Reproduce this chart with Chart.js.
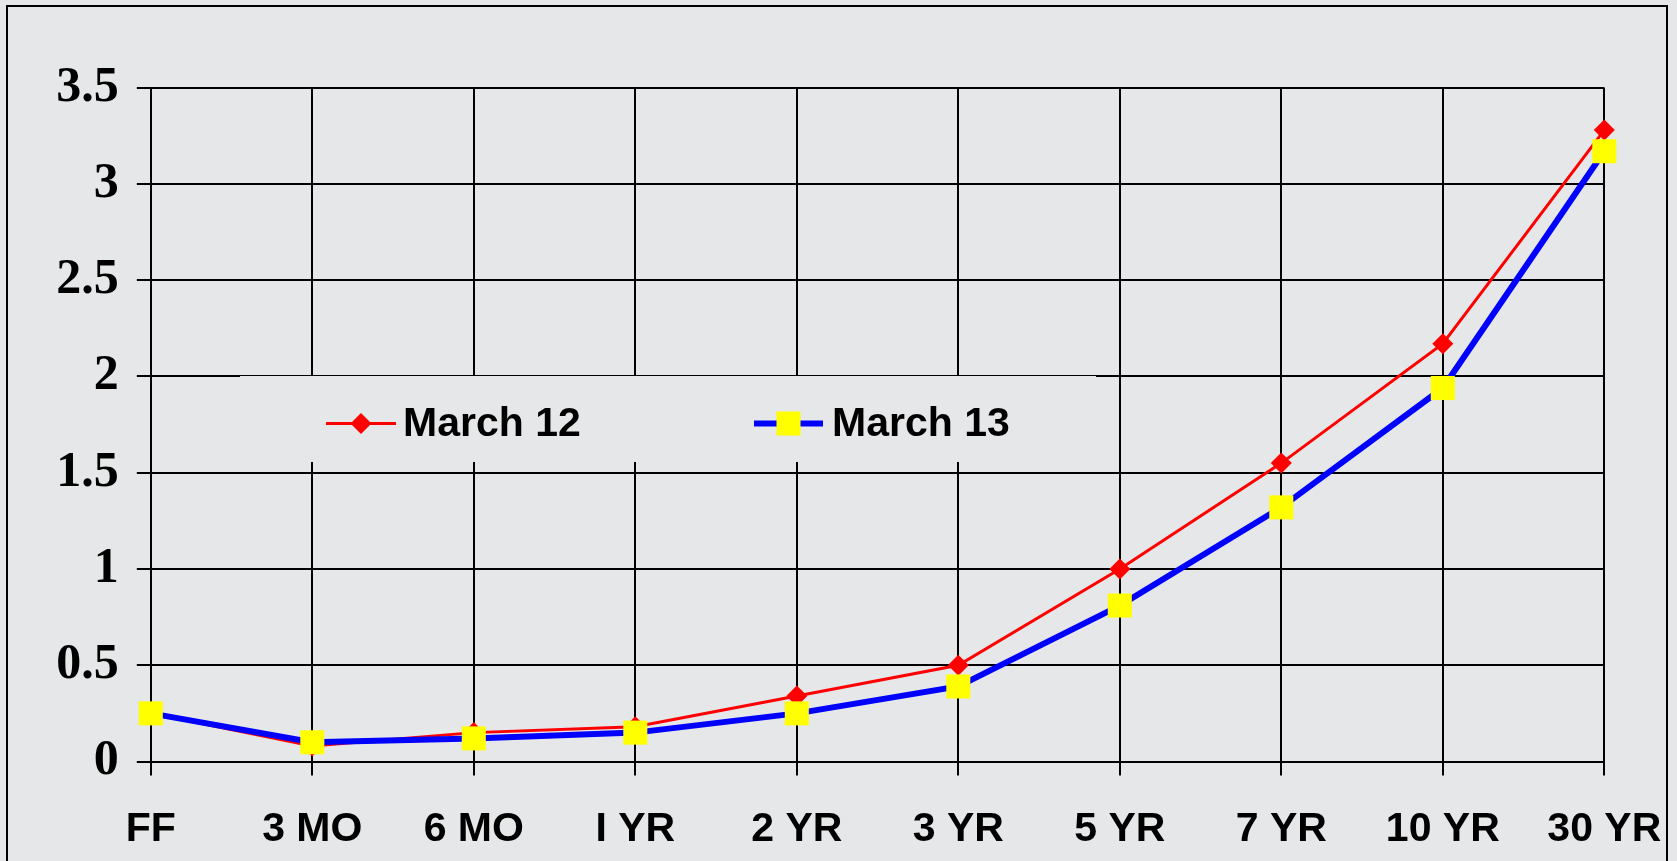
<!DOCTYPE html>
<html>
<head>
<meta charset="utf-8">
<script src="https://cdn.jsdelivr.net/npm/chart.js@4.4.1/dist/chart.umd.min.js"></script>
<style>
  html, body { margin: 0; padding: 0; }
  body {
    width: 1677px; height: 861px; overflow: hidden;
    background-color: #e6e7e8;
  }
  #frame {
    position: absolute; left: 6px; top: 5px; width: 1662px; height: 900px;
    box-sizing: border-box; border: 2px solid #000;
  }
  #c { position: absolute; left: 0; top: 0; }
</style>
</head>
<body>
<div id="frame"></div>
<canvas id="c" width="1677" height="861"></canvas>
<script>
// ---- data ----
const categories = ['FF', '3 MO', '6 MO', 'I YR', '2 YR', '3 YR', '5 YR', '7 YR', '10 YR', '30 YR'];
const seriesNames = ['March 12', 'March 13'];
const march12 = [0.25, 0.08, 0.15, 0.18, 0.34, 0.50, 1.00, 1.55, 2.17, 3.28];
const march13 = [0.25, 0.10, 0.12, 0.15, 0.25, 0.39, 0.81, 1.32, 1.94, 3.17];
const yTicks = [0, 0.5, 1, 1.5, 2, 2.5, 3, 3.5];

// ---- layout ----
const AREA = { left: 150.8, right: 1604.3, top: 87.7, bottom: 761.5 };
const W = 1677, H = 861;

const legendPlugin = {
  id: 'floatingLegend',
  afterDatasetsDraw(chart) {
    const ctx = chart.ctx;
    ctx.save();
    // box that hides the grid behind the legend
    ctx.clearRect(240, 376, 856, 86);
    const cy = 423.5;
    const items = [
      { x0: 326, x1: 396, tx: 403 },
      { x0: 754, x1: 823, tx: 832 }
    ];
    chart.data.datasets.forEach((ds, i) => {
      const it = items[i];
      ctx.strokeStyle = ds.borderColor;
      ctx.lineWidth = ds.borderWidth;
      ctx.beginPath();
      ctx.moveTo(it.x0, cy);
      ctx.lineTo(it.x1, cy);
      ctx.stroke();
      const mx = (it.x0 + it.x1) / 2;
      ctx.fillStyle = ds.pointBackgroundColor;
      ctx.beginPath();
      if (ds.pointStyle === 'rectRot') {
        const r = ds.pointRadius;
        ctx.moveTo(mx, cy - r); ctx.lineTo(mx + r, cy); ctx.lineTo(mx, cy + r); ctx.lineTo(mx - r, cy);
        ctx.closePath();
      } else {
        const s = ds.pointRadius * Math.SQRT1_2;
        ctx.rect(mx - s, cy - s, 2 * s, 2 * s);
      }
      ctx.fill();
      ctx.fillStyle = '#000';
      ctx.font = 'bold 41px "Liberation Sans", Arial, sans-serif';
      ctx.textBaseline = 'middle';
      ctx.textAlign = 'left';
      ctx.fillText(ds.label, it.tx, cy + 1);
    });
    ctx.restore();
  }
};

new Chart(document.getElementById('c'), {
  type: 'line',
  data: {
    labels: categories,
    datasets: [
      {
        label: seriesNames[0], data: march12, order: 2,
        borderColor: '#ff0000', borderWidth: 3, tension: 0,
        pointStyle: 'rectRot', pointRadius: 10.5, pointHoverRadius: 10.5,
        pointBackgroundColor: '#ff0000', pointBorderColor: '#ff0000', pointBorderWidth: 0,
        clip: false
      },
      {
        label: seriesNames[1], data: march13, order: 1,
        borderColor: '#0000ff', borderWidth: 6, tension: 0,
        pointStyle: 'rect', pointRadius: 17, pointHoverRadius: 17,
        pointBackgroundColor: '#ffff00', pointBorderColor: '#ffff00', pointBorderWidth: 0,
        clip: false
      }
    ]
  },
  options: {
    responsive: false,
    animation: false,
    devicePixelRatio: 1,
    layout: { padding: { left: 0, top: AREA.top, right: W - AREA.right, bottom: 0 } },
    plugins: { legend: { display: false }, tooltip: { enabled: false }, title: { display: false } },
    scales: {
      x: {
        type: 'category',
        offset: false,
        grid: { color: '#000', lineWidth: 2, tickLength: 14, drawTicks: true },
        border: { display: true, color: '#000', width: 2 },
        ticks: {
          color: '#000', autoSkip: false, maxRotation: 0, padding: 30,
          font: { family: '"Liberation Sans", Arial, sans-serif', weight: 'bold', size: 41 }
        },
        afterFit(scale) {
          scale.height = H - AREA.bottom;
          scale.paddingLeft = 0; scale.paddingRight = 0;
        }
      },
      y: {
        min: 0, max: 3.5,
        afterBuildTicks(scale) { scale.ticks = yTicks.map(v => ({ value: v })); },
        grid: { color: '#000', lineWidth: 2, tickLength: 14, drawTicks: true },
        border: { display: true, color: '#000', width: 2 },
        ticks: {
          color: '#000', padding: 18,
          font: { family: '"Liberation Serif", "Times New Roman", serif', weight: 'bold', size: 50 },
          callback: v => String(v)
        },
        afterFit(scale) {
          scale.width = AREA.left;
          scale.paddingTop = 0; scale.paddingBottom = 0;
        }
      }
    }
  },
  plugins: [legendPlugin]
});
</script>
</body>
</html>
